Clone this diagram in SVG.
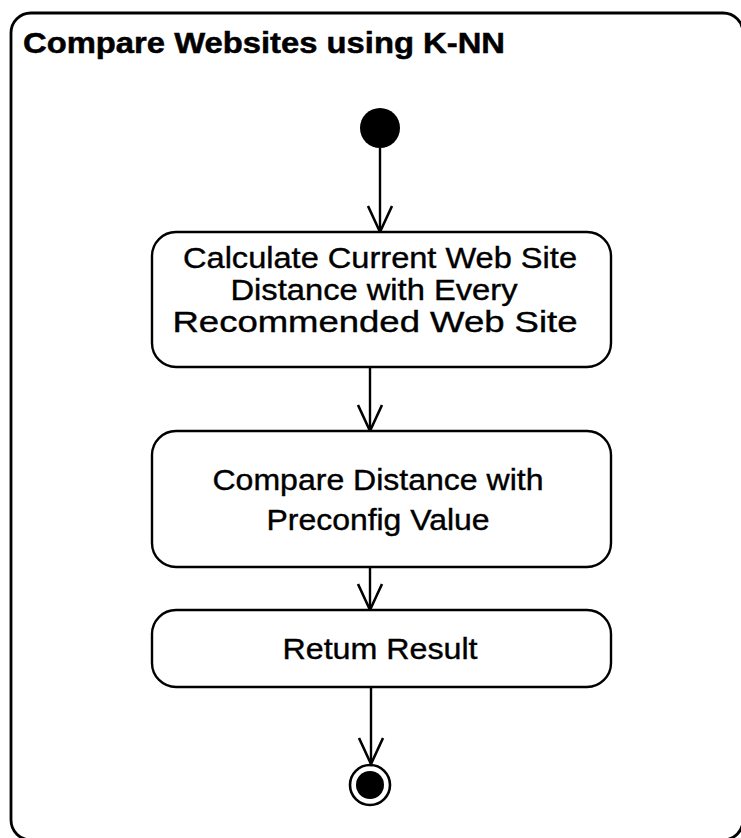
<svg xmlns="http://www.w3.org/2000/svg" width="741" height="838" viewBox="0 0 741 838">
  <style>
    .frame { fill: none; stroke: #000; stroke-width: 2.8; }
    .action { fill: #fff; stroke: #000; stroke-width: 2.4; }
    .label { font-family: "Liberation Sans", Arial, sans-serif; font-size: 30px; fill: #000; text-anchor: middle; stroke: #000; stroke-width: 0.4; }
    .title { font-family: "Liberation Sans", Arial, sans-serif; font-size: 30px; font-weight: bold; fill: #000; stroke: #000; stroke-width: 0.5; }
    .flow { fill: none; stroke: #000; stroke-width: 2.4; marker-end: url(#open-arrow); }
  </style>
  <defs>
    <marker id="open-arrow" markerUnits="userSpaceOnUse" viewBox="-28 -14 30 28" refX="0" refY="0" markerWidth="30" markerHeight="28" orient="auto" overflow="visible">
      <path d="M-26,-12 L0,0 L-26,12" fill="none" stroke="#000" stroke-width="2.6"/>
    </marker>
  </defs>
  <rect width="741" height="838" fill="#fff"/>

  <!-- activity frame -->
  <g id="activity-frame">
    <rect class="frame" x="11" y="13" width="732" height="827" rx="20" ry="20"/>
    <text class="title" x="23" y="53" textLength="482" lengthAdjust="spacingAndGlyphs">Compare Websites using K-NN</text>
  </g>

  <!-- control flow -->
  <g id="connectors">
    <line class="flow" x1="380" y1="148" x2="380" y2="232"/>
    <line class="flow" x1="370" y1="367" x2="370" y2="431"/>
    <line class="flow" x1="370" y1="567" x2="370" y2="610"/>
    <line class="flow" x1="371" y1="687" x2="371" y2="764"/>
  </g>

  <g id="initial-node">
    <circle cx="380" cy="128" r="20" fill="#000"/>
  </g>

  <g id="calculate-distance">
    <rect class="action" x="152" y="232" width="459" height="135" rx="24" ry="24"/>
    <text class="label" x="380" y="268" textLength="394" lengthAdjust="spacingAndGlyphs">Calculate Current Web Site</text>
    <text class="label" x="374" y="300" textLength="287" lengthAdjust="spacingAndGlyphs">Distance with Every</text>
    <text class="label" x="375" y="332" textLength="405" lengthAdjust="spacingAndGlyphs">Recommended Web Site</text>
  </g>

  <g id="compare-distance">
    <rect class="action" x="152" y="431" width="459" height="136" rx="24" ry="24"/>
    <text class="label" x="378" y="490" textLength="331" lengthAdjust="spacingAndGlyphs">Compare Distance with</text>
    <text class="label" x="378" y="530" textLength="223" lengthAdjust="spacingAndGlyphs">Preconfig Value</text>
  </g>

  <g id="return-result">
    <rect class="action" x="152" y="610" width="459" height="77" rx="24" ry="24"/>
    <text class="label" x="380" y="659" textLength="195" lengthAdjust="spacingAndGlyphs">Retum Result</text>
  </g>

  <g id="final-node">
    <circle cx="370" cy="785" r="20" fill="none" stroke="#000" stroke-width="2.6"/>
    <circle cx="370" cy="785" r="14" fill="#000"/>
  </g>
</svg>
